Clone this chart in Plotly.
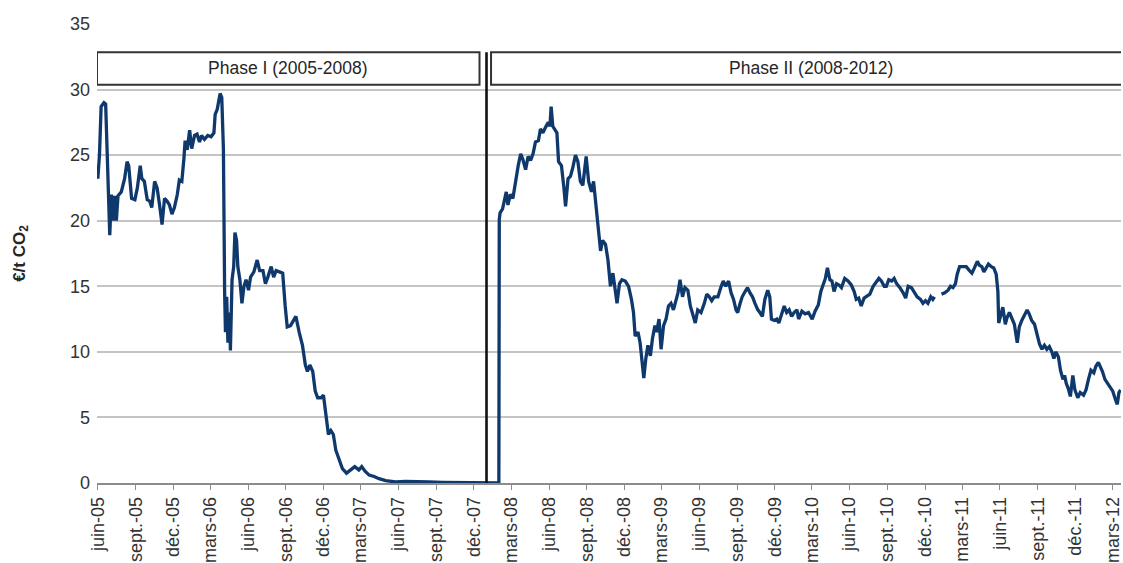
import plotly.graph_objects as go

# EUA price, Phase I (spot) -- then flat at zero until Phase II prices start
phase1_dates = [
    "2005-06-01", "2005-06-05", "2005-06-09", "2005-06-16", "2005-06-20", "2005-06-24",
    "2005-06-27", "2005-06-30", "2005-07-04", "2005-07-08", "2005-07-12", "2005-07-16",
    "2005-07-20", "2005-07-28", "2005-08-05", "2005-08-11", "2005-08-15", "2005-08-22",
    "2005-08-30", "2005-09-05", "2005-09-12", "2005-09-16", "2005-09-22", "2005-09-29",
    "2005-10-05", "2005-10-10", "2005-10-17", "2005-10-23", "2005-10-29", "2005-11-04",
    "2005-11-10", "2005-11-16", "2005-11-22", "2005-11-28", "2005-12-04", "2005-12-11",
    "2005-12-16", "2005-12-22", "2005-12-27", "2005-12-30", "2006-01-04", "2006-01-10",
    "2006-01-15", "2006-01-22", "2006-01-28", "2006-02-03", "2006-02-08", "2006-02-15",
    "2006-02-23", "2006-03-03", "2006-03-10", "2006-03-13", "2006-03-18", "2006-03-21",
    "2006-03-25", "2006-03-29", "2006-04-02", "2006-04-05", "2006-04-07", "2006-04-10",
    "2006-04-13", "2006-04-17", "2006-04-19", "2006-04-23", "2006-04-27", "2006-04-30",
    "2006-05-04", "2006-05-07", "2006-05-12", "2006-05-17", "2006-05-22", "2006-05-27",
    "2006-06-02", "2006-06-07", "2006-06-15", "2006-06-23", "2006-06-29", "2006-07-07",
    "2006-07-13", "2006-07-19", "2006-07-27", "2006-08-02", "2006-08-08", "2006-08-16",
    "2006-08-24", "2006-08-30", "2006-09-04", "2006-09-12", "2006-09-20", "2006-09-25",
    "2006-10-03", "2006-10-11", "2006-10-18", "2006-10-23", "2006-10-29", "2006-11-05",
    "2006-11-11", "2006-11-17", "2006-11-25", "2006-12-01", "2006-12-07", "2006-12-13",
    "2006-12-19", "2006-12-25", "2006-12-31", "2007-01-08", "2007-01-16", "2007-01-26",
    "2007-02-05", "2007-02-15", "2007-02-25", "2007-03-04", "2007-03-12", "2007-03-22",
    "2007-04-03", "2007-04-15", "2007-05-01", "2007-05-25", "2007-06-18", "2007-07-12",
    "2007-08-14", "2007-09-16", "2007-10-18", "2007-11-19", "2007-12-18", "2007-12-31",
    "2008-01-31",
]
phase1_prices = [
    23.2, 25.0, 28.7, 29.0, 28.9, 24.0,
    22.0, 18.9, 22.0, 20.0, 21.9, 20.0,
    21.9, 22.2, 23.2, 24.5, 24.2, 21.7,
    21.6, 22.5, 24.2, 23.2, 23.0, 21.6,
    21.5, 21.0, 23.0, 22.5, 21.2, 19.7,
    21.7, 21.5, 21.2, 20.5, 21.0, 22.0,
    23.1, 23.0, 24.7, 26.1, 25.4, 26.9,
    25.5, 26.5, 26.6, 26.0, 26.5, 26.2,
    26.5, 26.4, 26.7, 28.1, 28.5, 29.0,
    29.7, 29.4, 25.5, 14.5, 11.5, 14.2,
    10.7, 13.0, 10.1, 15.5, 16.5, 19.1,
    18.5, 16.5, 15.5, 13.7, 15.0, 15.5,
    14.7, 15.7, 16.1, 17.0, 16.2, 16.2,
    15.2, 15.7, 16.5, 15.7, 16.2, 16.1,
    16.0, 13.5, 11.9, 12.0, 12.5, 12.7,
    11.5, 10.5, 9.0, 8.5, 9.0, 8.5,
    7.0, 6.5, 6.5, 6.7, 5.2, 3.7,
    4.0, 3.7, 2.5, 1.7, 1.1, 0.75,
    1.0, 1.25, 1.0, 1.25, 0.9, 0.6,
    0.5, 0.33, 0.18, 0.08, 0.12, 0.12,
    0.08, 0.05, 0.05, 0.03, 0.02, 0.02,
    0.0,
]

# EUA price, Phase II (None = missing quotes around the new year 2011)
phase2_dates = [
    "2008-02-01", "2008-02-03", "2008-02-09", "2008-02-14", "2008-02-18", "2008-02-22",
    "2008-02-28", "2008-03-05", "2008-03-11", "2008-03-18", "2008-03-24", "2008-03-29",
    "2008-04-05", "2008-04-11", "2008-04-17", "2008-04-23", "2008-04-29", "2008-05-06",
    "2008-05-11", "2008-05-17", "2008-05-23", "2008-05-30", "2008-06-03", "2008-06-06",
    "2008-06-10", "2008-06-15", "2008-06-20", "2008-06-24", "2008-07-01", "2008-07-07",
    "2008-07-11", "2008-07-17", "2008-07-23", "2008-07-29", "2008-08-04", "2008-08-10",
    "2008-08-16", "2008-08-22", "2008-08-30", "2008-09-05", "2008-09-12", "2008-09-17",
    "2008-09-21", "2008-09-28", "2008-10-04", "2008-10-09", "2008-10-16", "2008-10-22",
    "2008-10-28", "2008-11-03", "2008-11-08", "2008-11-13", "2008-11-19", "2008-11-25",
    "2008-12-03", "2008-12-11", "2008-12-18", "2008-12-23", "2008-12-27", "2009-01-03",
    "2009-01-08", "2009-01-12", "2009-01-17", "2009-01-22", "2009-01-27", "2009-02-02",
    "2009-02-07", "2009-02-13", "2009-02-17", "2009-02-23", "2009-02-28", "2009-03-06",
    "2009-03-12", "2009-03-18", "2009-03-24", "2009-03-30", "2009-04-05", "2009-04-10",
    "2009-04-15", "2009-04-21", "2009-04-27", "2009-05-04", "2009-05-10", "2009-05-15",
    "2009-05-22", "2009-05-28", "2009-06-05", "2009-06-13", "2009-06-19", "2009-06-25",
    "2009-07-01", "2009-07-07", "2009-07-16", "2009-07-24", "2009-07-29", "2009-08-04",
    "2009-08-11", "2009-08-17", "2009-08-23", "2009-08-29", "2009-09-02", "2009-09-08",
    "2009-09-13", "2009-09-20", "2009-09-26", "2009-10-02", "2009-10-08", "2009-10-14",
    "2009-10-21", "2009-10-26", "2009-11-01", "2009-11-07", "2009-11-14", "2009-11-19",
    "2009-11-23", "2009-11-30", "2009-12-06", "2009-12-11", "2009-12-18", "2009-12-24",
    "2009-12-30", "2010-01-05", "2010-01-11", "2010-01-17", "2010-01-24", "2010-01-28",
    "2010-02-05", "2010-02-13", "2010-02-21", "2010-03-02", "2010-03-09", "2010-03-17",
    "2010-03-23", "2010-03-29", "2010-04-03", "2010-04-08", "2010-04-14", "2010-04-19",
    "2010-04-24", "2010-04-30", "2010-05-06", "2010-05-12", "2010-05-20", "2010-05-28",
    "2010-06-05", "2010-06-12", "2010-06-17", "2010-06-23", "2010-06-29", "2010-07-06",
    "2010-07-12", "2010-07-20", "2010-07-28", "2010-08-05", "2010-08-11", "2010-08-17",
    "2010-08-24", "2010-08-29", "2010-09-04", "2010-09-11", "2010-09-17", "2010-09-23",
    "2010-10-01", "2010-10-09", "2010-10-15", "2010-10-21", "2010-10-29", "2010-11-04",
    "2010-11-12", "2010-11-20", "2010-11-26", "2010-12-02", "2010-12-08", "2010-12-15",
    "2010-12-20", "2010-12-24", "2011-01-02", "2011-01-10", "2011-01-18", "2011-01-26",
    "2011-02-01", "2011-02-07", "2011-02-13", "2011-02-17", "2011-02-23", "2011-03-03",
    "2011-03-11", "2011-03-19", "2011-03-25", "2011-03-31", "2011-04-07", "2011-04-12",
    "2011-04-18", "2011-04-23", "2011-04-28", "2011-05-04", "2011-05-11", "2011-05-17",
    "2011-05-23", "2011-05-27", "2011-05-29", "2011-06-04", "2011-06-08", "2011-06-14",
    "2011-06-18", "2011-06-24", "2011-06-30", "2011-07-06", "2011-07-13", "2011-07-18",
    "2011-07-24", "2011-07-31", "2011-08-06", "2011-08-11", "2011-08-17", "2011-08-24",
    "2011-08-30", "2011-09-05", "2011-09-11", "2011-09-17", "2011-09-23", "2011-09-29",
    "2011-10-05", "2011-10-10", "2011-10-15", "2011-10-21", "2011-10-26", "2011-11-01",
    "2011-11-05", "2011-11-09", "2011-11-14", "2011-11-19", "2011-11-25", "2011-11-30",
    "2011-12-07", "2011-12-13", "2011-12-21", "2011-12-27", "2012-01-02", "2012-01-08",
    "2012-01-15", "2012-01-20", "2012-01-26", "2012-01-31", "2012-02-05", "2012-02-11",
    "2012-02-17", "2012-02-24", "2012-03-01", "2012-03-07", "2012-03-12", "2012-03-16",
    "2012-03-20",
]
phase2_prices = [
    20.1, 20.6, 20.9, 21.5, 22.2, 21.2,
    22.0, 21.7, 23.0, 24.2, 25.1, 24.7,
    23.9, 24.9, 24.6, 25.1, 26.0, 26.1,
    27.0, 26.7, 27.1, 27.5, 27.2, 28.7,
    27.2, 26.9, 26.7, 24.5, 24.2, 22.5,
    21.1, 23.2, 23.4, 24.1, 25.0, 24.5,
    23.0, 22.7, 24.9, 23.0, 22.2, 23.0,
    21.7, 19.7, 17.7, 18.5, 18.2, 17.0,
    15.0, 16.0, 15.0, 13.7, 15.2, 15.5,
    15.4, 15.0, 14.0, 13.0, 11.2, 11.5,
    10.7, 9.7, 8.0, 9.5, 10.5, 9.7,
    11.0, 12.0, 11.5, 12.5, 10.2, 12.0,
    12.5, 13.5, 13.7, 13.2, 14.0, 14.5,
    15.5, 14.2, 14.9, 14.7, 13.5, 13.0,
    12.2, 13.2, 13.0, 13.7, 14.4, 14.2,
    13.9, 14.2, 14.2, 15.0, 15.4, 15.0,
    15.4, 14.5, 14.0, 13.2, 13.0, 13.7,
    14.2, 14.6, 14.9, 14.5, 14.2, 13.7,
    13.2, 13.0, 12.7, 14.0, 14.7, 14.2,
    12.5, 12.4, 12.5, 12.2, 13.0, 13.5,
    13.0, 13.2, 12.7, 13.0, 13.2, 12.5,
    13.1, 12.9, 13.0, 12.5, 13.1, 13.6,
    14.6, 15.1, 15.6, 16.4, 15.5, 15.4,
    14.6, 15.2, 15.1, 14.9, 15.6, 15.4,
    15.1, 14.6, 14.0, 14.1, 13.5, 14.1,
    14.2, 14.4, 15.0, 15.4, 15.6, 15.4,
    15.0, 15.0, 15.5, 15.4, 15.6, 15.2,
    14.9, 14.5, 14.1, 15.0, 14.9, 14.6,
    14.2, 14.0, 13.7, 13.9, 13.7, 14.2,
    14.0, 14.2, None, 14.4, 14.5, 14.7,
    15.0, 14.9, 15.2, 15.9, 16.5, 16.5,
    16.5, 16.2, 16.0, 16.4, 16.9, 16.6,
    16.5, 16.1, 16.4, 16.7, 16.5, 16.4,
    15.9, 14.6, 12.2, 13.1, 13.4, 12.1,
    12.6, 13.0, 12.5, 12.1, 10.7, 11.9,
    12.4, 12.9, 13.2, 12.9, 12.4, 12.1,
    11.4, 10.6, 10.2, 10.5, 10.2, 10.4,
    10.0, 9.5, 10.0, 9.6, 8.6, 7.9,
    8.2, 7.6, 7.2, 6.6, 8.2, 7.1,
    6.5, 6.9, 6.7, 7.1, 7.9, 8.6,
    8.4, 8.9, 9.2, 8.9, 8.5, 7.9,
    7.6, 7.2, 7.0, 6.4, 6.0, 6.9,
    7.1,
]

# Quarterly axis ticks
tick_dates = [
    "2005-06-01", "2005-09-01", "2005-12-01", "2006-03-01", "2006-06-01", "2006-09-01",
    "2006-12-01", "2007-03-01", "2007-06-01", "2007-09-01", "2007-12-01", "2008-03-01",
    "2008-06-01", "2008-09-01", "2008-12-01", "2009-03-01", "2009-06-01", "2009-09-01",
    "2009-12-01", "2010-03-01", "2010-06-01", "2010-09-01", "2010-12-01", "2011-03-01",
    "2011-06-01", "2011-09-01", "2011-12-01", "2012-03-01",
]
tick_labels = [
    "juin-05", "sept.-05", "déc.-05", "mars-06", "juin-06", "sept.-06",
    "déc.-06", "mars-07", "juin-07", "sept.-07", "déc.-07", "mars-08",
    "juin-08", "sept.-08", "déc.-08", "mars-09", "juin-09", "sept.-09",
    "déc.-09", "mars-10", "juin-10", "sept.-10", "déc.-10", "mars-11",
    "juin-11", "sept.-11", "déc.-11", "mars-12",
]

# Phase banners: label, start, end, label centre
phases = [
    ("Phase I (2005-2008)", "2005-05-30", "2007-12-15", "2006-09-07"),
    ("Phase II (2008-2012)", "2008-01-12", "2012-04-20", "2010-02-26"),
]
phase_split = "2008-01-01"
banner_bottom, banner_top = 30.37, 32.85

FONT = "Liberation Sans, Arial, sans-serif"
LINE_COLOR = "#0f396c"

fig = go.Figure()
fig.add_trace(go.Scatter(
    x=phase1_dates + phase2_dates,
    y=phase1_prices + phase2_prices,
    mode="lines",
    line=dict(color=LINE_COLOR, width=3.3),
    connectgaps=False,
    showlegend=False,
))

shapes = []
annotations = []
for label, start, end, centre in phases:
    shapes.append(dict(
        type="rect", xref="x", yref="y", x0=start, x1=end,
        y0=banner_bottom, y1=banner_top,
        line=dict(color="#333333", width=2), fillcolor="white", layer="above",
    ))
    annotations.append(dict(
        x=centre, y=(banner_bottom + banner_top) / 2, xref="x", yref="y",
        text=label, showarrow=False,
        font=dict(family=FONT, size=17.5, color="#262626"),
    ))
shapes.append(dict(
    type="line", xref="x", yref="y", x0=phase_split, x1=phase_split,
    y0=0, y1=banner_top, line=dict(color="#111111", width=2.6), layer="above",
))

fig.update_layout(
    width=1123, height=563,
    margin=dict(l=97, r=0, t=24, b=71),
    paper_bgcolor="white", plot_bgcolor="white",
    font=dict(family=FONT, size=18, color="#333333"),
    shapes=shapes,
    annotations=annotations,
    xaxis=dict(
        type="date",
        range=["2005-05-30", "2012-03-21"],
        tickmode="array", tickvals=tick_dates, ticktext=tick_labels,
        tickangle=-90,
        ticklabeloverflow="allow",
        ticks="outside", ticklen=5, tickcolor="#8c8c8c", tickwidth=1.2,
        showline=True, linecolor="#8c8c8c", linewidth=1.5,
        showgrid=False, zeroline=False,
        tickfont=dict(family=FONT, size=18, color="#333333"),
    ),
    yaxis=dict(
        range=[0, 35], tick0=0, dtick=5,
        showgrid=True, gridcolor="#c4c4c4", gridwidth=1.5,
        zeroline=False, showline=False, ticks="",
        ticklabelstandoff=6,
        tickfont=dict(family=FONT, size=18, color="#333333"),
        title=dict(text="<b>€/t CO<sub>2</sub></b>", standoff=40,
                   font=dict(family=FONT, size=17, color="#262626")),
    ),
)

fig.write_html("out.html")
